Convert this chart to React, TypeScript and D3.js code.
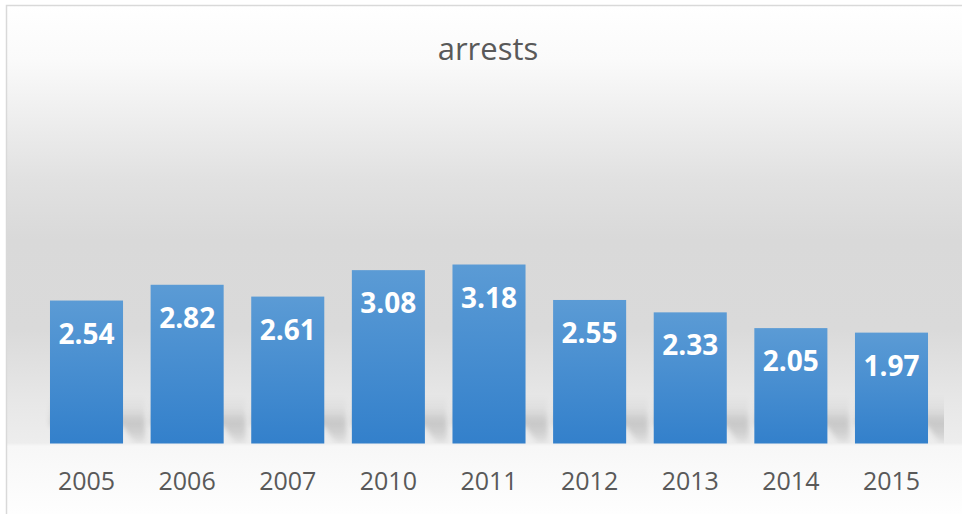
import React from "react";
import * as d3 from "d3";

const years = ["2005", "2006", "2007", "2010", "2011", "2012", "2013", "2014", "2015"];
const arrests = [2.54, 2.82, 2.61, 3.08, 3.18, 2.55, 2.33, 2.05, 1.97];
const title = "arrests";

const W = 962;
const H = 514;

export default function App() {
  const x = d3.scaleBand<string>().domain(years).range([36.2, 941.8]).paddingInner(0.274).paddingOuter(0.137);
  const y = d3.scaleLinear().domain([0, 3.5]).range([443.5, 246.5]);
  const bw = x.bandwidth();
  const base = y(0);

  return (
    <svg width={W} height={H} style={{ position: "absolute", left: 0, top: 0, background: "#fff" }}>
      <defs>
        <linearGradient id="bg" x1="0" y1="5" x2="0" y2="514" gradientUnits="userSpaceOnUse">
          <stop offset={0} stopColor="#ffffff" />
          <stop offset={(60 - 5) / 509} stopColor="#fafafa" />
          <stop offset={(180 - 5) / 509} stopColor="#e1e1e1" />
          <stop offset={(240 - 5) / 509} stopColor="#d9d9d9" />
          <stop offset={(330 - 5) / 509} stopColor="#dadada" />
          <stop offset={(400 - 5) / 509} stopColor="#e7e7e7" />
          <stop offset={(443 - 5) / 509} stopColor="#ededed" />
          <stop offset={(446 - 5) / 509} stopColor="#f7f7f7" />
          <stop offset={1} stopColor="#fefefe" />
        </linearGradient>
        <linearGradient id="bar" x1="0" y1="0" x2="0" y2="1">
          <stop offset={0} stopColor="#5b9bd5" />
          <stop offset={1} stopColor="#3380cb" />
        </linearGradient>
        <linearGradient id="sh" x1="0" y1="0" x2="0" y2="1">
          <stop offset={0} stopColor="#000" stopOpacity={0} />
          <stop offset={0.3} stopColor="#000" stopOpacity={0.05} />
          <stop offset={0.55} stopColor="#000" stopOpacity={0.15} />
          <stop offset={0.75} stopColor="#000" stopOpacity={0.12} />
          <stop offset={1} stopColor="#000" stopOpacity={0.03} />
        </linearGradient>
        <filter id="blur" x="-20%" y="-50%" width="140%" height="200%">
          <feGaussianBlur stdDeviation={2.5} />
        </filter>
        <clipPath id="plotclip">
          <rect x={0} y={0} width={944} height={base} />
        </clipPath>
      </defs>

      <rect x={6.5} y={5.5} width={1000} height={600} fill="url(#bg)" stroke="#d9d9d9" strokeWidth={1.5} />

      <text x={488} y={60} textAnchor="middle" fontFamily="'Open Sans', sans-serif" fontSize={31} fill="#595959">
        {title}
      </text>

      <g clipPath="url(#plotclip)">
        {years.map((yr) => {
          const x0 = x(yr)!;
          const x1 = x0 + bw;
          const pts = [
            [x0, 396],
            [x1 + 22, 396],
            [x1 + 22, 444],
            [x1 + 12, 444],
            [x1, 426],
            [x0, 426],
          ];
          return (
            <polygon
              key={"s" + yr}
              points={pts.map((p) => p.join(",")).join(" ")}
              fill="url(#sh)"
              filter="url(#blur)"
            />
          );
        })}
      </g>

      {years.map((yr, i) => {
        const x0 = x(yr)!;
        const top = y(arrests[i]);
        return (
          <g key={yr}>
            <rect x={x0} y={top} width={bw} height={base - top} fill="url(#bar)" />
            <text
              x={x0 + bw / 2}
              y={top + 43}
              textAnchor="middle"
              fontFamily="'Open Sans', sans-serif"
              fontWeight={700}
              fontSize={28}
              fill="#ffffff"
            >
              {arrests[i].toFixed(2)}
            </text>
            <text
              x={x0 + bw / 2}
              y={490}
              textAnchor="middle"
              fontFamily="'Open Sans', sans-serif"
              fontSize={25}
              fill="#595959"
            >
              {yr}
            </text>
          </g>
        );
      })}
    </svg>
  );
}
